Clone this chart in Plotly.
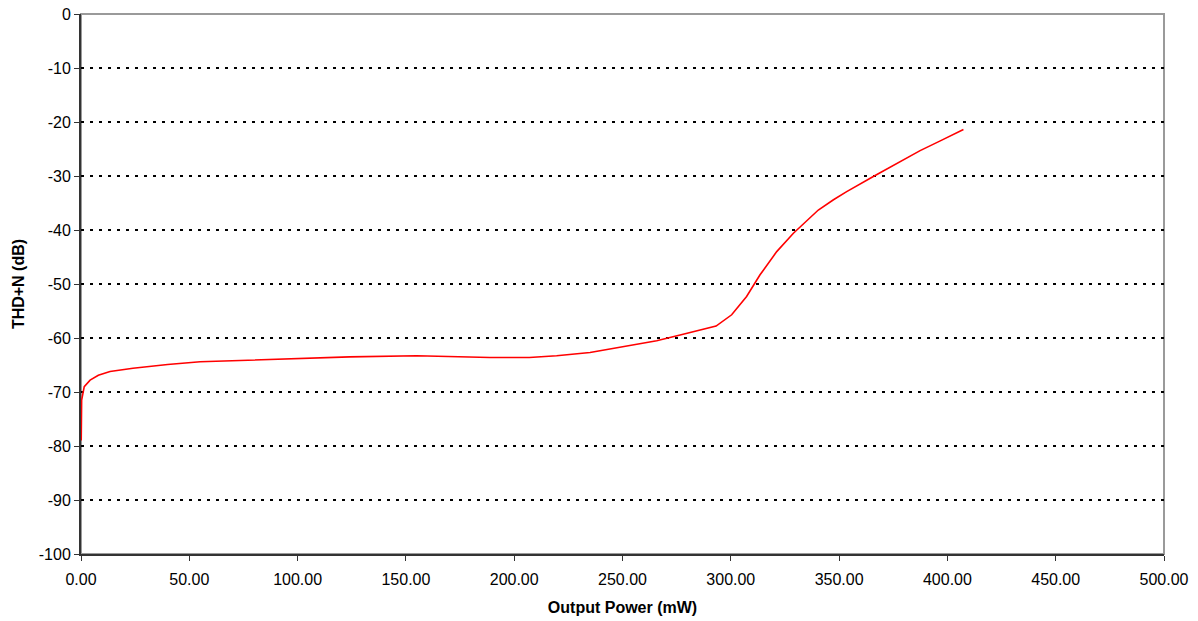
import plotly.graph_objects as go

# Data
output_power_mw = [0.1, 0.3, 1.5, 4.2, 8.0, 13.4, 24.0, 40.0, 55.0, 78.0, 100.0, 124.0,
                   155.0, 188.8, 207.0, 219.6, 235.0, 250.0, 265.8, 278.0, 285.8, 293.2,
                   300.4, 307.3, 313.5, 321.2, 328.9, 334.3, 340.4, 347.4, 353.5, 365.8,
                   378.2, 387.4, 396.7, 407.4]
thd_n_db = [-79.0, -71.5, -69.0, -67.8, -66.9, -66.2, -65.6, -64.9, -64.4, -64.1, -63.7, -63.5,
            -63.3, -63.6, -63.6, -63.3, -62.7, -61.6, -60.5, -59.3, -58.6, -57.8,
            -55.7, -52.3, -48.3, -44.0, -40.6, -38.5, -36.3, -34.4, -32.9, -30.1,
            -27.3, -25.3, -23.5, -21.4]

x_ticks = [0, 50, 100, 150, 200, 250, 300, 350, 400, 450, 500]
y_ticks = [0, -10, -20, -30, -40, -50, -60, -70, -80, -90, -100]
y_tick_labels = ["0", "-10", "-20", "-30", "-40", "-50", "-60", "-70", "-80", "-90", "-100"]

fig = go.Figure()
fig.add_trace(go.Scatter(
    x=output_power_mw, y=thd_n_db, mode="lines",
    line=dict(color="#ff0000", width=1.6), showlegend=False,
))

font_family = "Liberation Sans, Arial, sans-serif"

# gray border on top/right
fig.add_shape(type="rect", xref="paper", yref="paper", x0=0, y0=0, x1=1, y1=1,
              line=dict(color="#9a9a9a", width=2), layer="below")

fig.update_layout(
    width=1198, height=621,
    margin=dict(l=81, r=34, t=14, b=67),
    paper_bgcolor="white", plot_bgcolor="white",
    font=dict(family=font_family, color="#000000", size=16),
)
fig.update_xaxes(
    range=[0, 500], tickvals=x_ticks, tickformat=".2f",
    showgrid=False, zeroline=False, automargin=False,
    showline=True, linecolor="#333333", linewidth=2,
    ticks="outside", ticklen=5, tickcolor="#333333", tickwidth=1,
    ticklabelstandoff=5, ticklabeloverflow="allow",
    tickfont=dict(size=16, family=font_family),
    title=dict(text="<b>Output Power (mW)</b>", font=dict(size=16, family=font_family), standoff=15),
)
fig.update_yaxes(
    range=[-100, 0], tickvals=y_ticks, ticktext=y_tick_labels,
    showgrid=True, gridcolor="#000000", gridwidth=2, griddash="3px,6px",
    zeroline=False, automargin=False,
    showline=True, linecolor="#333333", linewidth=2,
    ticks="outside", ticklen=5, tickcolor="#333333", tickwidth=1,
    ticklabeloverflow="allow",
    tickfont=dict(size=16, family=font_family),
    title=dict(text="<b>THD+N (dB)</b>", font=dict(size=16, family=font_family), standoff=10),
)

# remove the default 8px page margin so the figure fills the window exactly
fig.write_html(
    "out.html",
    config={"displayModeBar": False},
    post_script="document.body.style.margin='0';document.body.style.overflow='hidden';",
)
